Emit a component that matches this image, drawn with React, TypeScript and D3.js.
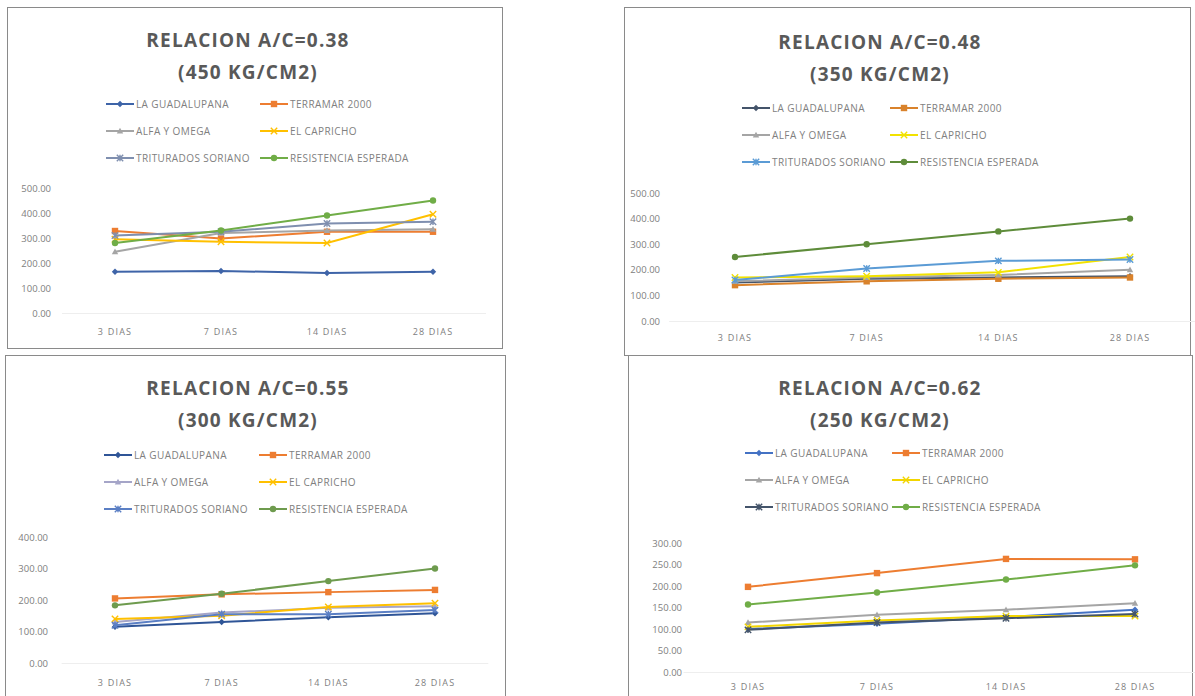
import React from "react";
import * as d3 from "d3";

const categories = ["3 DIAS", "7 DIAS", "14 DIAS", "28 DIAS"];
const seriesNames = [
  "LA GUADALUPANA",
  "TERRAMAR 2000",
  "ALFA Y OMEGA",
  "EL CAPRICHO",
  "TRITURADOS SORIANO",
  "RESISTENCIA ESPERADA",
];
const markerKinds = ["diamond", "square", "triangle", "x", "star", "circle"];

// values per panel, one row per series (same order as seriesNames)
const values038 = [
  [165, 168, 160, 165],
  [328, 298, 325, 325],
  [245, 320, 330, 335],
  [295, 285, 280, 395],
  [310, 325, 358, 365],
  [280, 330, 390, 450],
];
const values048 = [
  [150, 165, 170, 175],
  [140, 155, 165, 170],
  [155, 170, 180, 200],
  [170, 175, 190, 250],
  [160, 205, 235, 240],
  [250, 300, 350, 400],
];
const values055 = [
  [115, 130, 145, 158],
  [205, 218, 225, 232],
  [130, 160, 175, 180],
  [140, 150, 178, 190],
  [120, 155, 155, 168],
  [183, 220, 260, 300],
];
const values062 = [
  [100, 112, 128, 145],
  [198, 230, 263, 262],
  [115, 133, 145, 160],
  [105, 120, 130, 130],
  [98, 115, 125, 135],
  [157, 185, 215, 248],
];

const ticks038 = [0, 100, 200, 300, 400, 500];
const ticks048 = [0, 100, 200, 300, 400, 500];
const ticks055 = [0, 100, 200, 300, 400];
const ticks062 = [0, 50, 100, 150, 200, 250, 300];

const titles038 = ["RELACION A/C=0.38", "(450 KG/CM2)"];
const titles048 = ["RELACION A/C=0.48", "(350 KG/CM2)"];
const titles055 = ["RELACION A/C=0.55", "(300 KG/CM2)"];
const titles062 = ["RELACION A/C=0.62", "(250 KG/CM2)"];

const colors038 = ["#3E64A8", "#ED7D31", "#A5A5A5", "#FFC000", "#7F8FAF", "#70AD47"];
const colors048 = ["#44546A", "#D9822B", "#A5A5A5", "#F2E200", "#5B9BD5", "#5E8C3A"];
const colors055 = ["#2F5597", "#ED7D31", "#A5A5C8", "#FFC000", "#5B7FC4", "#6E9B4E"];
const colors062 = ["#4472C4", "#ED7D31", "#A5A5A5", "#F2D500", "#44546A", "#70AD47"];

type PanelLayout = {
  box: [number, number, number, number];
  titleX: number;
  titleY: number;
  legendX: [number, number];
  legendY: number;
  legendDy: number;
  xFirst: number;
  xLast: number;
  yZero: number;
  yTop: number;
  labelRight: number;
  catY: number;
};

const panels = [
  {
    titles: titles038, values: values038, ticks: ticks038, colors: colors038,
    layout: { box: [7, 7, 495, 341], titleX: 248, titleY: 47, legendX: [106, 260], legendY: 104, legendDy: 27, xFirst: 115, xLast: 433, yZero: 313, yTop: 188, labelRight: 51, catY: 335 } as PanelLayout,
  },
  {
    titles: titles048, values: values048, ticks: ticks048, colors: colors048,
    layout: { box: [624, 7, 566, 348], titleX: 880, titleY: 49, legendX: [742, 890], legendY: 108, legendDy: 27, xFirst: 735, xLast: 1130, yZero: 321, yTop: 193, labelRight: 660, catY: 341 } as PanelLayout,
  },
  {
    titles: titles055, values: values055, ticks: ticks055, colors: colors055,
    layout: { box: [5, 355, 500, 345], titleX: 248, titleY: 395, legendX: [104, 259], legendY: 455, legendDy: 27, xFirst: 115, xLast: 435, yZero: 663, yTop: 537, labelRight: 48, catY: 686 } as PanelLayout,
  },
  {
    titles: titles062, values: values062, ticks: ticks062, colors: colors062,
    layout: { box: [628, 355, 564, 345], titleX: 880, titleY: 395, legendX: [745, 892], legendY: 453, legendDy: 27, xFirst: 748, xLast: 1135, yZero: 672, yTop: 543, labelRight: 682, catY: 690 } as PanelLayout,
  },
];

function Marker({ kind, x, y, color }: { kind: string; x: number; y: number; color: string }) {
  const s = 3.2;
  switch (kind) {
    case "diamond":
      return <path d={`M${x},${y - s}L${x + s},${y}L${x},${y + s}L${x - s},${y}Z`} fill={color} />;
    case "square":
      return <rect x={x - s} y={y - s} width={2 * s} height={2 * s} fill={color} />;
    case "triangle":
      return <path d={`M${x},${y - s}L${x + s},${y + s * 0.8}L${x - s},${y + s * 0.8}Z`} fill={color} />;
    case "x":
      return <path d={`M${x - s},${y - s}L${x + s},${y + s}M${x - s},${y + s}L${x + s},${y - s}`} stroke={color} strokeWidth={1.4} />;
    case "star":
      return <path d={`M${x - s},${y - s}L${x + s},${y + s}M${x - s},${y + s}L${x + s},${y - s}M${x},${y - s}L${x},${y + s}`} stroke={color} strokeWidth={1.4} />;
    default:
      return <circle cx={x} cy={y} r={s} fill={color} />;
  }
}

function Panel({ p }: { p: (typeof panels)[number] }) {
  const L = p.layout;
  const step = (L.xLast - L.xFirst) / (categories.length - 1);
  const x = d3
    .scalePoint<string>()
    .domain(categories)
    .range([L.xFirst, L.xLast]);
  const maxTick = p.ticks[p.ticks.length - 1];
  const y = d3.scaleLinear().domain([0, maxTick]).range([L.yZero, L.yTop]);
  const line = d3
    .line<number>()
    .x((_, i) => x(categories[i]) as number)
    .y((v) => y(v));
  const [bx, by, bw, bh] = L.box;
  return (
    <g>
      <rect x={bx + 0.5} y={by + 0.5} width={bw} height={bh} fill="#fff" stroke="#8a8a8a" strokeWidth={1} />
      {p.titles.map((t, i) => (
        <text
          key={t}
          x={L.titleX}
          y={L.titleY + i * 32}
          textAnchor="middle"
          fontFamily="'Open Sans', sans-serif"
          fontWeight={700}
          fontSize={19}
          letterSpacing={1.2}
          fill="#595959"
        >
          {t}
        </text>
      ))}
      {seriesNames.map((name, i) => {
        const col = i % 2;
        const row = Math.floor(i / 2);
        const lx = L.legendX[col];
        const ly = L.legendY + row * L.legendDy;
        return (
          <g key={name}>
            <line x1={lx} x2={lx + 28} y1={ly} y2={ly} stroke={p.colors[i]} strokeWidth={2} />
            <Marker kind={markerKinds[i]} x={lx + 14} y={ly} color={p.colors[i]} />
            <text x={lx + 30} y={ly + 3.5} fontFamily="'Open Sans', sans-serif" fontSize={10} letterSpacing={0.4} fill="#808080">
              {name}
            </text>
          </g>
        );
      })}
      {p.ticks.map((t) => (
        <text
          key={t}
          x={L.labelRight}
          y={y(t) + 3.5}
          textAnchor="end"
          fontFamily="'Open Sans', sans-serif"
          fontSize={9.5}
          fill="#808080"
        >
          {t.toFixed(2)}
        </text>
      ))}
      <line x1={L.xFirst - step / 2} x2={L.xLast + step / 2} y1={L.yZero + 0.5} y2={L.yZero + 0.5} stroke="#eeeeee" strokeWidth={1} />
      {categories.map((c) => (
        <text
          key={c}
          x={x(c)}
          y={L.catY}
          textAnchor="middle"
          fontFamily="'Open Sans', sans-serif"
          fontSize={9}
          letterSpacing={1.2}
          fill="#808080"
        >
          {c}
        </text>
      ))}
      {p.values.map((vals, i) => (
        <g key={i}>
          <path d={line(vals) || ""} fill="none" stroke={p.colors[i]} strokeWidth={2} />
          {vals.map((v, j) => (
            <Marker key={j} kind={markerKinds[i]} x={x(categories[j]) as number} y={y(v)} color={p.colors[i]} />
          ))}
        </g>
      ))}
    </g>
  );
}

export default function App() {
  return (
    <svg
      width={1195}
      height={696}
      style={{ position: "absolute", left: 0, top: 0, background: "#fff" }}
    >
      <rect x={0} y={0} width={1195} height={696} fill="#fff" />
      {panels.map((p, i) => (
        <Panel key={i} p={p} />
      ))}
    </svg>
  );
}
